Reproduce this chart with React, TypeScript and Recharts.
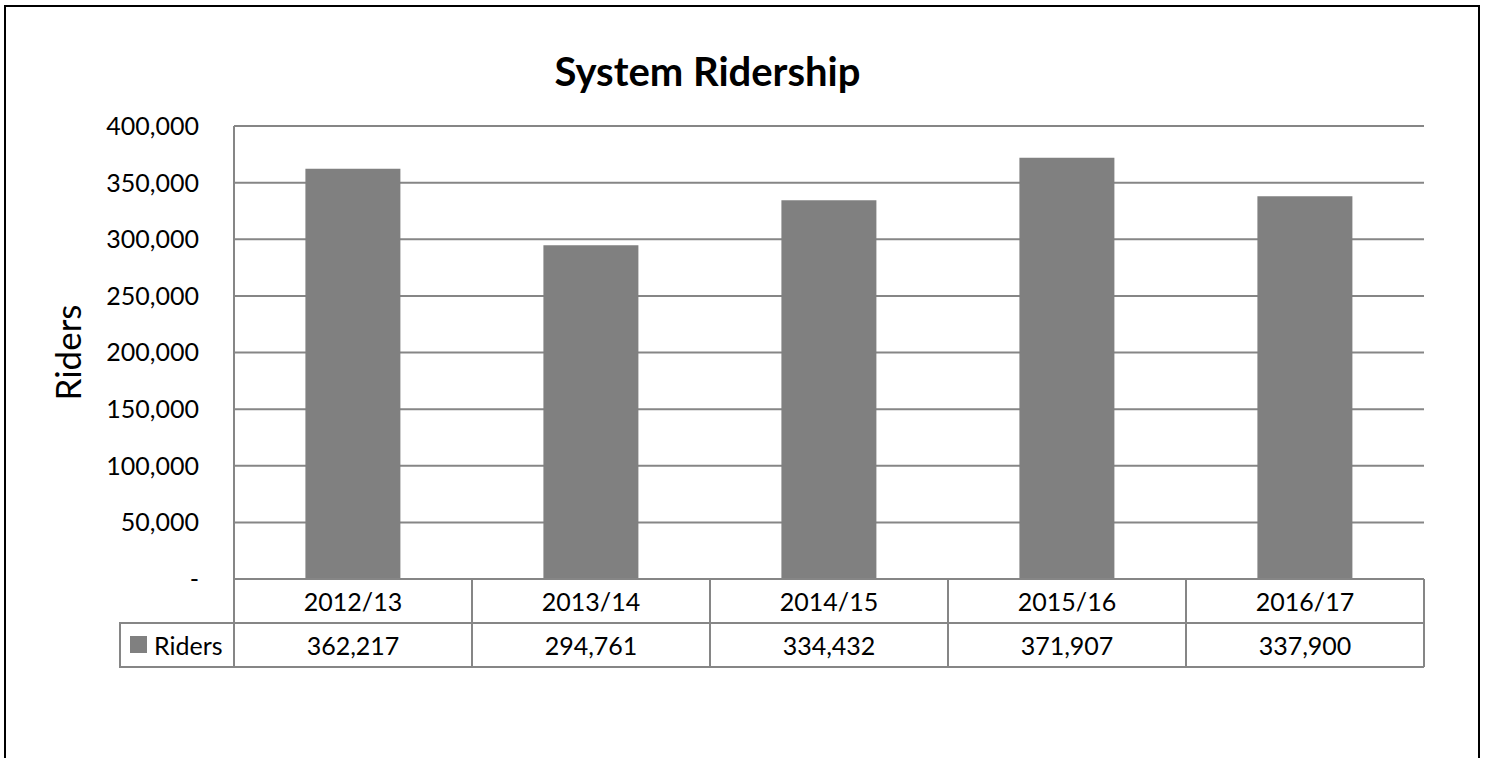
import React from "react";
import { BarChart, Bar, XAxis, YAxis, CartesianGrid, Label } from "recharts";

const categories = ["2012/13", "2013/14", "2014/15", "2015/16", "2016/17"];
const riders = [362217, 294761, 334432, 371907, 337900];
const yTicks = [0, 50000, 100000, 150000, 200000, 250000, 300000, 350000, 400000];
const seriesName = "Riders";
const title = "System Ridership";

const data = categories.map((c, i) => ({ year: c, riders: riders[i] }));

const W = 1485;
const H = 758;
const X_H = 100;
const M = { top: 126, right: 61, bottom: 179 - X_H, left: 104 };
const Y_W = 130;
const PLOT_W = W - M.left - M.right - Y_W;
const BAND = PLOT_W / categories.length;
const ROW = 44;
const LEG_W = 114;
const LINE = "#868686";
const BAR = "#808080";
const FONT = "Lato, 'Open Sans', sans-serif";
const fmt = (v: number) => (v === 0 ? "-" : v.toLocaleString("en-US"));

const TableTick = (props: any) => {
  const { x, y, payload, index } = props;
  const half = BAND / 2;
  const val = riders[index];
  return (
    <g>
      <text x={x} y={y + ROW / 2} textAnchor="middle" dominantBaseline="central" fontSize={25} fontFamily={FONT} fill="#000">
        {payload.value}
      </text>
      <text x={x} y={y + ROW + ROW / 2} textAnchor="middle" dominantBaseline="central" fontSize={25} fontFamily={FONT} fill="#000">
        {fmt(val)}
      </text>
      <line x1={x + half} x2={x + half} y1={y} y2={y + 2 * ROW} stroke={LINE} strokeWidth={2} />
      <line x1={x - half} x2={x + half} y1={y + ROW} y2={y + ROW} stroke={LINE} strokeWidth={2} />
      <line x1={x - half} x2={x + half} y1={y + 2 * ROW} y2={y + 2 * ROW} stroke={LINE} strokeWidth={2} />
      {index === 0 && (
        <g>
          <line x1={x - half} x2={x - half} y1={y} y2={y + 2 * ROW} stroke={LINE} strokeWidth={2} />
          <rect x={x - half - LEG_W} y={y + ROW} width={LEG_W} height={ROW} fill="none" stroke={LINE} strokeWidth={2} />
          <rect x={x - half - LEG_W + 10} y={y + ROW + 13} width={17} height={17} fill={BAR} />
          <text x={x - half - LEG_W + 34} y={y + ROW + ROW / 2} textAnchor="start" dominantBaseline="central" fontSize={25} fontFamily={FONT} fill="#000">
            {seriesName}
          </text>
        </g>
      )}
    </g>
  );
};

export default function App() {
  return (
    <div style={{ position: "absolute", left: 0, top: 0, width: W, height: H, background: "#fff", overflow: "hidden" }}>
      <div
        style={{
          position: "absolute",
          left: 4,
          top: 5,
          width: 1472,
          height: 800,
          border: "2px solid #000",
        }}
      />
      <div
        style={{
          position: "absolute",
          left: 0,
          width: 1415,
          top: 46,
          textAlign: "center",
          fontFamily: FONT,
          fontWeight: 700,
          fontSize: 40,
          lineHeight: "50px",
          color: "#000",
        }}
      >
        {title}
      </div>
      <div style={{ position: "absolute", left: 0, top: 0 }}>
        <BarChart width={W} height={H} data={data} margin={M} barCategoryGap="30%">
          <CartesianGrid horizontal vertical={false} stroke={LINE} strokeWidth={2} />
          <XAxis
            dataKey="year"
            axisLine={{ stroke: LINE, strokeWidth: 2 }}
            tickLine={false}
            tickSize={0}
            tickMargin={0}
            height={X_H}
            tick={<TableTick />}
            interval={0}
          />
          <YAxis
            width={Y_W}
            domain={[0, 400000]}
            ticks={yTicks}
            tickFormatter={fmt}
            axisLine={{ stroke: LINE, strokeWidth: 2 }}
            tickLine={false}
            tickSize={0}
            tickMargin={35}
            tick={{ fontSize: 25, fontFamily: FONT, fill: "#000" }}
            interval={0}
          >
            <Label
              content={(p: any) => {
                const vb = p.viewBox || {};
                const cx = vb.x - 37;
                const cy = vb.y + vb.height / 2;
                return (
                  <text x={cx} y={cy} transform={`rotate(-90 ${cx} ${cy})`} textAnchor="middle" dominantBaseline="central" fontSize={35} fontFamily={FONT} fill="#000">
                    {seriesName}
                  </text>
                );
              }}
            />
          </YAxis>
          <Bar dataKey="riders" name={seriesName} fill={BAR} isAnimationActive={false} />
        </BarChart>
      </div>
    </div>
  );
}
